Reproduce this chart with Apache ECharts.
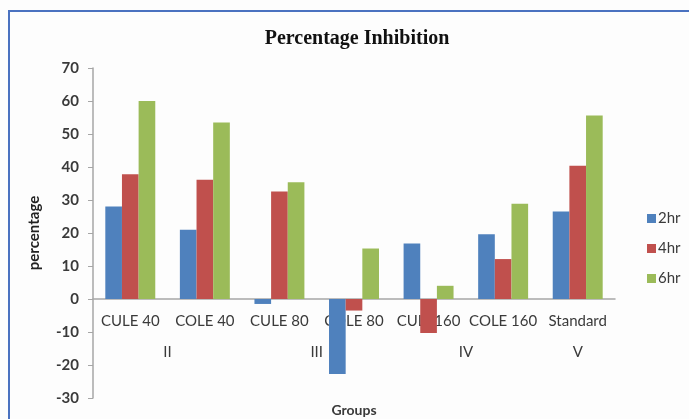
<!DOCTYPE html>
<html>
<head>
<meta charset="utf-8">
<script src="https://cdn.jsdelivr.net/npm/echarts@6/dist/echarts.min.js"></script>
<style>
html,body{margin:0;padding:0;background:#fdfdfd;}
#chart{width:689px;height:419px;}
</style>
</head>
<body>
<div id="chart"></div>
<script>
var categories = ['CULE 40', 'COLE 40', 'CULE 80', 'COLE 80', 'CULE160', 'COLE 160', 'Standard'];
var seriesNames = ['2hr', '4hr', '6hr'];
var values2hr = [28, 21, -1.5, -22.7, 16.8, 19.6, 26.5];
var values4hr = [37.8, 36.1, 32.6, -3.5, -10.3, 12.1, 40.4];
var values6hr = [60, 53.5, 35.4, 15.3, 4.0, 28.9, 55.6];
var groupLabels = ['', '', 'II', '', '', '', 'III', '', '', '', 'IV', '', '', 'V', ''];
var colors = ['#4f81bd', '#c0504d', '#9bbb59'];
var yMin = -30, yMax = 70;

var chart = echarts.init(document.getElementById('chart'), null, {renderer: 'canvas'});
var gridTop = 68, gridBottom = 21, gridH = 419 - gridTop - gridBottom;
var zeroOffset = -gridH * (0 - yMin) / (yMax - yMin);
var labelFont = {fontFamily: 'Lato', fontSize: 15, color: '#3a3a3a'};
chart.setOption({
  backgroundColor: '#fdfdfd',
  animation: false,
  color: colors,
  title: {
    text: 'Percentage Inhibition',
    left: 352, top: 24, textAlign: 'center',
    textStyle: {fontFamily: 'Liberation Serif', fontWeight: 'bold', fontSize: 20, color: '#111'}
  },
  graphic: [{
    type: 'rect', silent: true,
    shape: {x: 9, y: 11, width: 700, height: 430},
    style: {fill: 'none', stroke: '#4a72c0', lineWidth: 2}
  }],
  legend: {
    orient: 'vertical', left: 642, top: 206,
    itemWidth: 9, itemHeight: 9, itemGap: 15,
    icon: 'rect',
    textStyle: {fontFamily: 'Lato', fontSize: 15, color: '#3a3a3a', lineHeight: 14, padding: [0,0,0,-3]},
    data: seriesNames
  },
  grid: {left: 93, right: 74, top: gridTop, bottom: gridBottom, containLabel: false, outerBoundsMode: 'none'},
  xAxis: [{
    type: 'category', data: categories, position: 'bottom', offset: zeroOffset,
    axisLine: {onZero: false, lineStyle: {color: '#a6a6a6', width: 1.5}},
    axisTick: {show: false},
    axisLabel: Object.assign({margin: 15, interval: 0}, labelFont),
    name: 'Groups', nameLocation: 'middle', nameGap: 104,
    nameTextStyle: {fontFamily: 'Lato', fontWeight: 'bold', fontSize: 14, color: '#3a3a3a'}
  }, {
    type: 'category', data: groupLabels, boundaryGap: false,
    position: 'bottom', offset: zeroOffset,
    axisLine: {show: false, onZero: false},
    axisTick: {show: false},
    axisLabel: Object.assign({margin: 46, interval: 0}, labelFont)
  }],
  yAxis: {
    type: 'value', min: yMin, max: yMax, interval: 10,
    axisLine: {show: true, lineStyle: {color: '#a6a6a6', width: 1.5}},
    axisTick: {show: true, inside: false, length: 5, lineStyle: {color: '#a6a6a6'}},
    splitLine: {show: false},
    axisLabel: Object.assign({margin: 14}, labelFont, {fontWeight: 'bold', fontSize: 15}),
    name: 'percentage', nameLocation: 'middle', nameGap: 51, nameRotate: 90,
    nameTextStyle: {fontFamily: 'Lato', fontWeight: 'bold', fontSize: 15, color: '#222'}
  },
  series: [
    {name: seriesNames[0], type: 'bar', data: values2hr, barGap: '0%', barCategoryGap: '33%'},
    {name: seriesNames[1], type: 'bar', data: values4hr, barGap: '0%', barCategoryGap: '33%'},
    {name: seriesNames[2], type: 'bar', data: values6hr, barGap: '0%', barCategoryGap: '33%'}
  ]
});
</script>
</body>
</html>
